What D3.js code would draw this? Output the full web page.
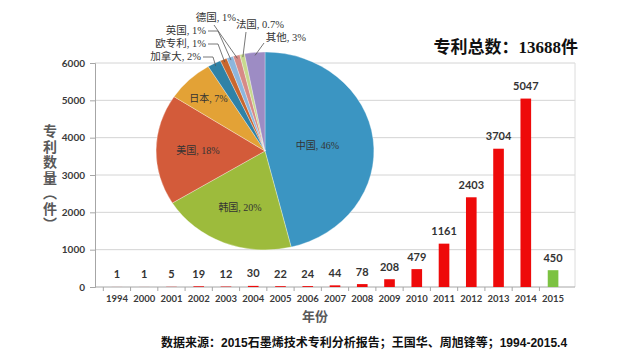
<!DOCTYPE html>
<html>
<head>
<meta charset="utf-8">
<script src="https://cdn.jsdelivr.net/npm/d3@7"></script>
<style>
  body { margin: 0; background: #fff; }
  svg { display: block; }
</style>
</head>
<body>
<svg id="chart" width="640" height="362"></svg>
<script>
// bar data: patents per year
var years = ["1994", "2000", "2001", "2002", "2003", "2004", "2005", "2006", "2007", "2008", "2009", "2010", "2011", "2012", "2013", "2014", "2015"];
var counts = [1, 1, 5, 19, 12, 30, 22, 24, 44, 78, 208, 479, 1161, 2403, 3704, 5047, 450];
var yTicks = [0, 1000, 2000, 3000, 4000, 5000, 6000];

// pie data: share by country
var countries = ["中国", "韩国", "美国", "日本", "加拿大", "欧专利", "英国", "德国", "法国", "其他"];
var shares = [46, 20, 18, 7, 2, 1, 1, 1, 0.7, 3];
var shareLabels = ["46%", "20%", "18%", "7%", "2%", "1%", "1%", "1%", "0.7%", "3%"];
var pieColors = ["#3b95c2", "#9dbb3c", "#d35b3a", "#e3a236", "#2f82a6", "#c9662e", "#8db6dd", "#d78a86", "#c8d98e", "#9d8cc4"];

function drawChart() {
  var svg = d3.select("#chart");

  // plot area
  var pLeft = 95, pRight = 575, pTop = 63, pBottom = 287;

  var x = d3.scaleBand().domain(years).range([pLeft, pRight]).padding(0.61);
  var y = d3.scaleLinear().domain([0, 6000]).range([pBottom, pTop]);

  // gridlines
  svg.append("g")
    .selectAll("line")
    .data(yTicks.slice(1))
    .enter().append("line")
      .attr("x1", pLeft).attr("x2", pRight)
      .attr("y1", function(d) { return y(d); })
      .attr("y2", function(d) { return y(d); })
      .attr("stroke", "#d4d4d4").attr("stroke-width", 1);

  // right border
  svg.append("line")
    .attr("x1", pRight).attr("x2", pRight).attr("y1", pTop).attr("y2", pBottom)
    .attr("stroke", "#dcdcdc");

  // y axis
  var yAxis = svg.append("g")
    .attr("transform", "translate(" + pLeft + ",0)")
    .call(d3.axisLeft(y).tickValues(yTicks).tickFormat(d3.format("d")).tickSize(5).tickPadding(5));
  yAxis.select(".domain").attr("stroke", "#a6a6a6");
  yAxis.selectAll(".tick line").attr("stroke", "#a6a6a6");
  yAxis.selectAll("text")
    .attr("font-family", "Lato, 'Open Sans', sans-serif")
    .attr("font-weight", "bold").attr("font-size", 10).attr("fill", "#3a3a3a");

  // x axis
  var xAxis = svg.append("g")
    .attr("transform", "translate(0," + pBottom + ")")
    .call(d3.axisBottom(x).tickSize(0).tickPadding(8));
  xAxis.select(".domain").attr("stroke", "#a6a6a6").attr("d", "M" + pLeft + ",0H" + pRight);
  xAxis.selectAll("text")
    .attr("font-family", "Lato, 'Open Sans', sans-serif")
    .attr("font-weight", "bold").attr("font-size", 9.5).attr("fill", "#3a3a3a");
  // tick marks between categories
  var step = x.step();
  svg.append("g")
    .selectAll("line")
    .data(years)
    .enter().append("line")
      .attr("x1", function(d) { return x(d) + x.bandwidth() / 2 - step / 2; })
      .attr("x2", function(d) { return x(d) + x.bandwidth() / 2 - step / 2; })
      .attr("y1", pBottom).attr("y2", pBottom + 4)
      .attr("stroke", "#a6a6a6");

  // bars
  var bars = years.map(function(d, i) { return { year: d, value: counts[i] }; });
  svg.append("g")
    .selectAll("rect")
    .data(bars)
    .enter().append("rect")
      .attr("x", function(d) { return x(d.year); })
      .attr("width", x.bandwidth())
      .attr("y", function(d) { return y(d.value); })
      .attr("height", function(d) { return pBottom - y(d.value); })
      .attr("fill", function(d) { return d.year === "2015" ? "#7cc242" : "#ee0a0a"; });

  svg.append("g")
    .selectAll("text")
    .data(bars)
    .enter().append("text")
      .attr("x", function(d) { return x(d.year) + x.bandwidth() / 2; })
      .attr("y", function(d) { return y(d.value) - 8.5; })
      .attr("text-anchor", "middle")
      .attr("font-family", "Lato, 'Open Sans', sans-serif")
      .attr("font-weight", "bold").attr("font-size", 11).attr("fill", "#333")
      .text(function(d) { return d.value; });

  // axis titles
  svg.append("text")
    .attr("x", 50).attr("y", 124)
    .style("writing-mode", "vertical-rl")
    .style("text-orientation", "upright")
    .attr("font-family", "'Noto Sans CJK SC', sans-serif")
    .attr("font-weight", "bold").attr("font-size", 14).attr("fill", "#595959")
    .attr("letter-spacing", 1.5)
    .text("专利数量（件）");

  svg.append("text")
    .attr("x", 315).attr("y", 321)
    .attr("text-anchor", "middle")
    .attr("font-family", "'Noto Sans CJK SC', sans-serif")
    .attr("font-weight", "bold").attr("font-size", 13).attr("fill", "#595959")
    .text("年份");

  svg.append("text")
    .attr("x", 578).attr("y", 53)
    .attr("text-anchor", "end")
    .attr("font-family", "'Liberation Serif', 'Noto Sans CJK SC', serif")
    .attr("font-weight", "bold").attr("font-size", 17).attr("fill", "#111")
    .text("专利总数：13688件");

  svg.append("text")
    .attr("x", 161).attr("y", 347)
    .attr("font-family", "'Liberation Sans', 'Noto Sans CJK SC', sans-serif")
    .attr("font-weight", "bold").attr("font-size", 12).attr("fill", "#111")
    .text("数据来源：2015石墨烯技术专利分析报告；王国华、周旭锋等；1994-2015.4");

  // pie (slightly wider than tall, as in the original)
  var cx = 265, cy = 151, r = 99, sx = 1.1;
  var pie = d3.pie().sort(null).value(function(d) { return d.value; });
  var slices = pie(countries.map(function(d, i) {
    return { name: d, value: shares[i], label: shareLabels[i], color: pieColors[i] };
  }));
  var arc = d3.arc().innerRadius(0).outerRadius(r);

  svg.append("g")
    .attr("transform", "translate(" + cx + "," + cy + ") scale(" + sx + ",1)")
    .selectAll("path")
    .data(slices)
    .enter().append("path")
      .attr("d", arc)
      .attr("fill", function(d) { return d.data.color; })
      .attr("stroke", "#fff").attr("stroke-width", 0.3);

  function pt(a, rad) {
    return [cx + Math.sin(a) * rad * sx, cy - Math.cos(a) * rad];
  }

  // labels inside the big slices
  var innerRadius = [48, 60, 61, 74];
  svg.append("g")
    .selectAll("text")
    .data(slices.slice(0, 4))
    .enter().append("text")
      .attr("x", function(d, i) { return pt((d.startAngle + d.endAngle) / 2, innerRadius[i])[0]; })
      .attr("y", function(d, i) { return pt((d.startAngle + d.endAngle) / 2, innerRadius[i])[1] + 4; })
      .attr("text-anchor", "middle")
      .attr("font-family", "'Liberation Serif', 'Noto Sans CJK SC', serif")
      .attr("font-size", 10).attr("fill", "#333")
      .text(function(d) { return d.data.name + ", " + d.data.label; });

  // labels outside the small slices, with leader lines
  var outerPos = [[201, 60], [206, 47], [206, 34], [236, 21], [284, 28], [306, 41]];
  var small = slices.slice(4);
  var lab = svg.append("g");
  small.forEach(function(d, i) {
    var p = outerPos[i];
    var a = pt((d.startAngle + d.endAngle) / 2, r - 3);
    var line;
    if (i < 3) {
      line = [[p[0] + 2, p[1] - 3], [p[0] + 12, p[1] - 3], a];
    } else if (i === 3) {
      line = [[p[0] - 22, p[1] + 4], a];
    } else if (i === 4) {
      line = [[p[0] - 38, p[1] + 4], a];
    } else {
      line = [[p[0] - 42, p[1] + 2], a];
    }
    lab.append("path")
      .attr("d", d3.line()(line))
      .attr("fill", "none").attr("stroke", "#555").attr("stroke-width", 0.8);
    lab.append("text")
      .attr("x", p[0]).attr("y", p[1])
      .attr("text-anchor", "end")
      .attr("font-family", "'Liberation Serif', 'Noto Sans CJK SC', serif")
      .attr("font-size", 10.5).attr("fill", "#333")
      .text(d.data.name + ", " + d.data.label);
  });
}

drawChart();
</script>
</body>
</html>
